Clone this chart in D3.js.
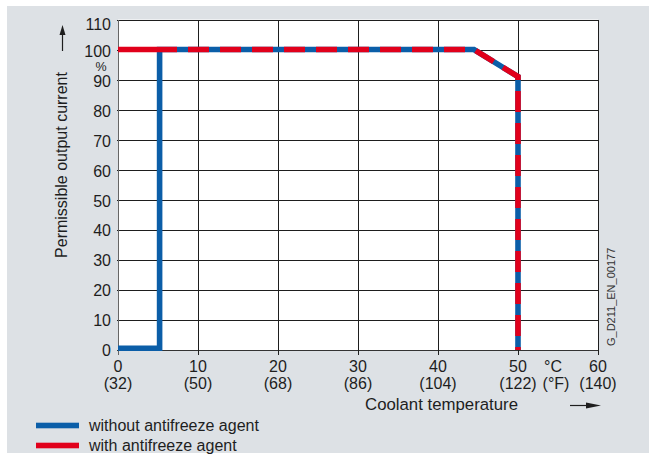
<!DOCTYPE html>
<html>
<head>
<meta charset="utf-8">
<script src="https://cdn.jsdelivr.net/npm/d3@7"></script>
<style>
  html, body { margin: 0; padding: 0; background: #ffffff; }
  svg { display: block; font-family: "Liberation Sans", Arial, sans-serif; }
</style>
</head>
<body>
<svg id="chart" width="649" height="456"></svg>
<script>
// ---- data ----
const celsiusTicks = [0, 10, 20, 30, 40, 50, 60];
const fahrenheitLabels = ["(32)", "(50)", "(68)", "(86)", "(104)", "(122)", "(140)"];
const currentTicks = [0, 10, 20, 30, 40, 50, 60, 70, 80, 90, 100, 110];
const withoutTemp = [0, 5.2, 5.2, 44.5, 50, 50];
const withoutCurrent = [0.6, 0.6, 100, 100, 91, 0];
const withTemp = [0, 44.5, 50, 50];
const withCurrent = [100, 100, 91, 0];
const seriesNames = ["without antifreeze agent", "with antifreeze agent"];

// ---- styles ----
const blue = "#0b5ea8";
const red = "#e1001b";
const ink = "#1e1e1e";

const svg = d3.select("#chart");

// background panel
svg.append("rect").attr("x", 7).attr("y", 6).attr("width", 642).attr("height", 447).attr("fill", "#dde1e5");

const x = d3.scaleLinear().domain([0, 60]).range([118, 598]);
const y = d3.scaleLinear().domain([0, 110]).range([350, 19.5]);
const yLab = d3.scaleLinear().domain([0, 100]).range([350.5, 51]);

// plot area
svg.append("rect")
  .attr("x", x(0)).attr("y", y(110))
  .attr("width", x(60) - x(0)).attr("height", y(0) - y(110))
  .attr("fill", "#ffffff");

const grid = svg.append("g").attr("stroke", ink).attr("stroke-width", 1).attr("shape-rendering", "crispEdges");
// horizontal grid
grid.selectAll("line.h").data(currentTicks).join("line")
  .attr("x1", x(0) - 1).attr("x2", x(60))
  .attr("y1", d => Math.round(y(d)) + 0.5).attr("y2", d => Math.round(y(d)) + 0.5)
  .attr("stroke", d => (d === 0 ? "#333" : ink));
// vertical grid (with small ticks below axis)
grid.selectAll("line.v").data(celsiusTicks).join("line")
  .attr("y1", y(110)).attr("y2", y(0) + 5)
  .attr("x1", d => Math.round(x(d)) + 0.5).attr("x2", d => Math.round(x(d)) + 0.5)
  .attr("stroke", d => (d === 0 ? "#666" : ink));

// y tick labels
svg.append("g").selectAll("text").data(currentTicks).join("text")
  .attr("x", 111).attr("y", d => (d === 110 ? yLab(d) + 3 : yLab(d))).attr("dy", "0.36em")
  .attr("text-anchor", "end").attr("font-size", 16).attr("fill", ink)
  .text(d => d);
svg.append("text").attr("x", 101).attr("y", 66.5).attr("dy", "0.36em")
  .attr("text-anchor", "middle").attr("font-size", 12.5).attr("fill", ink).text("%");

// x tick labels
const xl = svg.append("g").attr("font-size", 16).attr("fill", ink).attr("text-anchor", "middle");
xl.selectAll("text.c").data(celsiusTicks).join("text")
  .attr("x", d => x(d)).attr("y", 372).text(d => d);
xl.selectAll("text.f").data(fahrenheitLabels).join("text")
  .attr("x", (d, i) => x(celsiusTicks[i])).attr("y", 389).text(d => d);
xl.append("text").attr("x", 553).attr("y", 372).text("°C");
xl.append("text").attr("x", 556).attr("y", 389).text("(°F)");

// axis titles
svg.append("text").attr("x", 518).attr("y", 410).attr("text-anchor", "end")
  .attr("font-size", 16.8).attr("fill", ink).text("Coolant temperature");
svg.append("text").attr("transform", "translate(67,165) rotate(-90)")
  .attr("text-anchor", "middle").attr("font-size", 16).attr("fill", ink)
  .text("Permissible output current");

// arrows
svg.append("line").attr("x1", 62.5).attr("x2", 62.5).attr("y1", 51).attr("y2", 32)
  .attr("stroke", ink).attr("stroke-width", 1.2);
svg.append("path").attr("d", "M62.5,25 L59.5,35 L65.5,35 Z").attr("fill", ink);
svg.append("line").attr("x1", 570).attr("x2", 590).attr("y1", 405.5).attr("y2", 405.5)
  .attr("stroke", ink).attr("stroke-width", 1.2);
svg.append("path").attr("d", "M601,405.5 L586,402.5 L586,408.5 Z").attr("fill", ink);

// code label
svg.append("text").attr("transform", "translate(615,346) rotate(-90)")
  .attr("font-size", 11).attr("fill", "#333").text("G_D211_EN_00177");

// lines
const line = d3.line().x(d => x(d[0])).y(d => y(d[1]));
const withoutPts = withoutTemp.map((t, i) => [t, withoutCurrent[i]]);
const withPts = withTemp.map((t, i) => [t, withCurrent[i]]);

svg.append("path").attr("d", line(withoutPts)).attr("fill", "none")
  .attr("stroke", blue).attr("stroke-width", 5.6).attr("stroke-linejoin", "miter");

const dash = [59];
for (let i = 0; i < 40; i++) dash.push(11, 21);
dash.push(11);
svg.append("path").attr("d", line(withPts)).attr("fill", "none")
  .attr("stroke", red).attr("stroke-width", 5.6).attr("stroke-linejoin", "miter")
  .attr("stroke-dasharray", dash.join(" "));

// legend
const legend = svg.append("g");
const legendColors = [blue, red];
const legendY = [425.5, 445.5];
legend.selectAll("rect").data(seriesNames).join("rect")
  .attr("x", 36).attr("y", (d, i) => legendY[i] - 2.8).attr("width", 43).attr("height", 5.6)
  .attr("fill", (d, i) => legendColors[i]);
legend.selectAll("text").data(seriesNames).join("text")
  .attr("x", 89).attr("y", (d, i) => legendY[i] + 5.3)
  .attr("font-size", 16).attr("fill", ink).text(d => d);
</script>
</body>
</html>
